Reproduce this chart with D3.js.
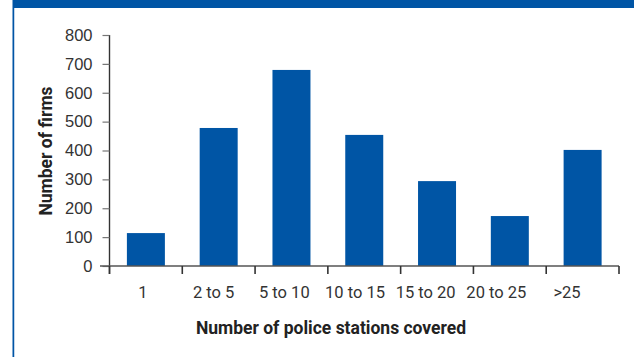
<!DOCTYPE html>
<html><head><meta charset="utf-8">
<script src="https://cdn.jsdelivr.net/npm/d3@7"></script>
<style>
html,body{margin:0;padding:0;background:#fff;}
svg{display:block;font-family:Roboto, "Noto Sans", sans-serif;}
</style></head>
<body>
<svg id="chart" width="634" height="357"></svg>
<script>
const categories = ["1","2 to 5","5 to 10","10 to 15","15 to 20","20 to 25",">25"];
const values = [114, 478, 679, 454, 294, 173, 402];
const yTicks = [0,100,200,300,400,500,600,700,800];
const xTitle = "Number of police stations covered";
const yTitle = "Number of firms";

(function(){
const svg = d3.select("#chart");
const blue = "#0055a5";

// frame
svg.append("rect").attr("x",13).attr("y",0).attr("width",621).attr("height",8).attr("fill",blue);
svg.append("rect").attr("x",12.5).attr("y",0).attr("width",1.6).attr("height",357).attr("fill",blue);
svg.append("rect").attr("x",14.1).attr("y",8).attr("width",0.8).attr("height",349).attr("fill","#b9cfe8");

const mLeft = 109.5, mRight = 619, mTop = 35, mBottom = 266;
const x = d3.scaleBand().domain(categories).range([mLeft, mRight]).paddingInner(0.478).paddingOuter(0.239);
const y = d3.scaleLinear().domain([0,800]).range([mBottom, mTop]);
// label positions (labels in the original are set slightly tighter than the bars)
const xl = d3.scalePoint().domain(categories).range([143, 567]);

// bars
svg.append("g").selectAll("rect").data(values).join("rect")
  .attr("x",(d,i)=>x(categories[i]))
  .attr("y",d=>y(d))
  .attr("width",x.bandwidth())
  .attr("height",d=>y(0)-y(d))
  .attr("fill",blue);

// y axis
const ya = svg.append("g").attr("transform",`translate(${mLeft},0)`)
  .call(d3.axisLeft(y).tickValues(yTicks).tickSize(7).tickPadding(10));
ya.select(".domain").attr("stroke","#333").attr("stroke-width",1.4).attr("d",`M0,${mTop}V${mBottom+8}`);
ya.selectAll(".tick line").attr("stroke","#777").attr("stroke-width",1.2);
ya.selectAll(".tick text").attr("font-size","16.5px").attr("fill","#333");

// x axis
const bounds = d3.range(categories.length+1).map(i=>mLeft + i*x.step());
const xa = svg.append("g");
xa.append("line").attr("x1",100).attr("x2",mRight).attr("y1",mBottom).attr("y2",mBottom)
  .attr("stroke","#555").attr("stroke-width",1.3);
xa.selectAll("line.t").data(bounds).join("line").attr("class","t")
  .attr("x1",d=>d).attr("x2",d=>d).attr("y1",mBottom).attr("y2",mBottom+8)
  .attr("stroke","#333").attr("stroke-width",1.6);
xa.selectAll("text").data(categories).join("text")
  .attr("x",d=>xl(d)).attr("y",298)
  .attr("text-anchor","middle").attr("font-size","16.5px").attr("fill","#333").text(d=>d);

// titles
svg.append("text").attr("x",331).attr("y",334).attr("text-anchor","middle")
  .attr("font-size","17.5px").attr("font-weight","bold").attr("fill","#222").text(xTitle);
svg.append("text").attr("transform","translate(51.5,151) rotate(-90)").attr("text-anchor","middle")
  .attr("font-size","17.5px").attr("font-weight","bold").attr("fill","#222").text(yTitle);
})();
</script>
</body></html>
